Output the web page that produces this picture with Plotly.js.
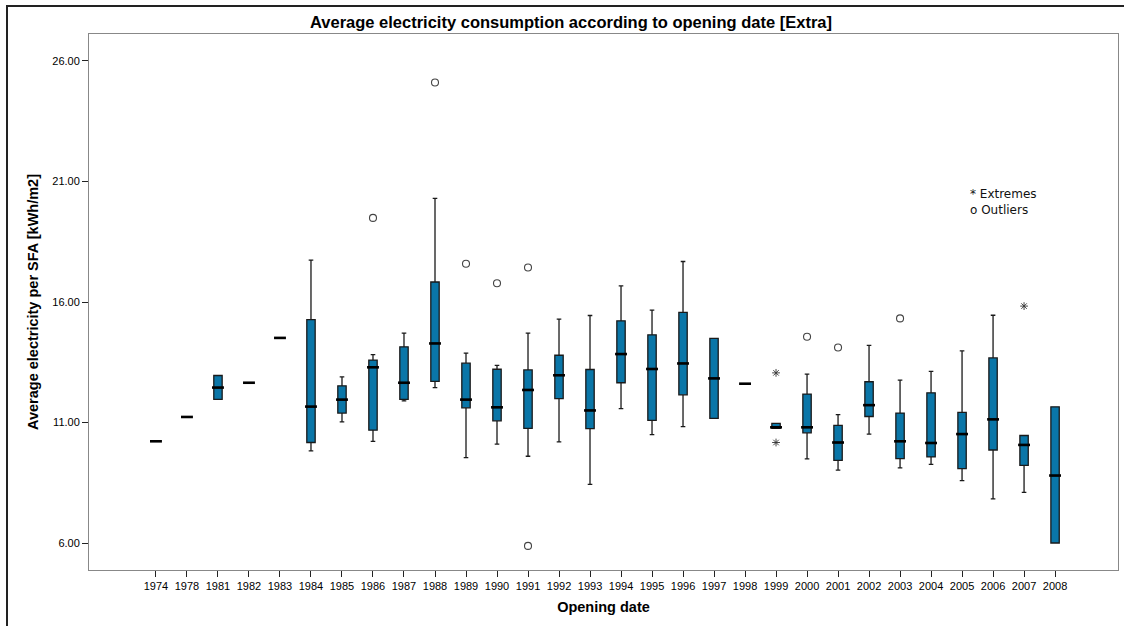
<!DOCTYPE html>
<html>
<head>
<meta charset="utf-8">
<script src="https://cdn.plot.ly/plotly-3.0.1.min.js"></script>
<style>
  html, body { margin: 0; padding: 0; background: #fff; }
  #frame { position: absolute; left: 6px; top: 5px; width: 1130px; height: 640px;
           border-left: 2px solid #222; border-top: 2px solid #222; pointer-events: none; }
  #chart { position: absolute; left: 0; top: 0; width: 1124px; height: 626px; }
</style>
</head>
<body>
<div id="chart"></div>
<div id="frame"></div>
<script>
// Opening-date categories
const years = ['1974','1978','1981','1982','1983','1984','1985','1986','1987','1988',
               '1989','1990','1991','1992','1993','1994','1995','1996','1997','1998',
               '1999','2000','2001','2002','2003','2004','2005','2006','2007','2008'];
// Box statistics (kWh/m2)
const lowerWhisker = [10.22,11.23,11.96,12.65,14.51, 9.82,11.03,10.22,11.90,12.45,
                       9.54,10.10, 9.60,10.20, 8.43,11.58,10.50,10.83,11.17,12.61,
                      10.76, 9.49, 9.02,10.52, 9.12, 9.26, 8.59, 7.83, 8.10, 6.00];
const q1Values     = [10.22,11.23,11.96,12.65,14.51,10.17,11.39,10.68,11.96,12.71,
                      11.61,11.07,10.76,11.99,10.75,12.65,11.09,12.15,11.17,12.61,
                      10.76,10.57, 9.43,11.25, 9.50, 9.57, 9.09, 9.86, 9.22, 6.00];
const medianValues = [10.22,11.23,12.45,12.65,14.51,11.66,11.95,13.29,12.65,14.28,
                      11.95,11.63,12.35,12.96,11.50,13.84,13.22,13.45,12.83,12.61,
                      10.80,10.80,10.17,11.72,10.22,10.15,10.52,11.13,10.07, 8.80];
const q3Values     = [10.22,11.23,12.95,12.65,14.51,15.27,12.52,13.59,14.14,16.83,
                      13.46,13.21,13.18,13.79,13.20,15.22,14.64,15.57,14.49,12.61,
                      10.96,12.18,10.88,12.69,11.39,12.23,11.42,13.68,10.46,11.65];
const upperWhisker = [10.22,11.23,12.95,12.65,14.51,17.74,12.89,13.82,14.71,20.30,
                      13.88,13.37,14.71,15.29,15.44,16.67,15.66,17.68,14.49,12.61,
                      10.96,13.01,11.33,14.20,12.76,13.12,13.97,15.45,10.46,11.65];
// Outliers (o) and extremes (*)
const outlierYears  = ['1986','1988','1989','1990','1991','1991','2000','2001','2003'];
const outlierValues = [19.49, 25.11, 17.59, 16.78, 17.43,  5.88, 14.56, 14.11, 15.32];
const extremeYears  = ['1999','1999','2007'];
const extremeValues = [13.06, 10.17, 15.83];
const yTicks = [6, 11, 16, 21, 26];

const boxTrace = {
  type: 'box',
  x: years,
  q1: q1Values, median: medianValues, q3: q3Values,
  lowerfence: lowerWhisker, upperfence: upperWhisker,
  boxpoints: false,
  width: 0.27,
  whiskerwidth: 0.55,
  fillcolor: '#0a76a8',
  line: { color: '#1a1a1a', width: 1.3 },
  hoverinfo: 'skip',
  showlegend: false
};
const medianTrace = {
  type: 'scatter', mode: 'markers',
  x: years, y: medianValues,
  marker: { symbol: 'line-ew', size: 8.5, line: { color: '#000', width: 2.6 } },
  hoverinfo: 'skip', showlegend: false
};
const outlierTrace = {
  type: 'scatter', mode: 'markers',
  x: outlierYears, y: outlierValues,
  marker: { symbol: 'circle-open', size: 7, color: '#444', line: { width: 1.1, color: '#444' } },
  hoverinfo: 'skip', showlegend: false
};
const extremeTrace = {
  type: 'scatter', mode: 'markers',
  x: extremeYears, y: extremeValues,
  marker: { symbol: 'asterisk-open', size: 6.5, color: '#333', line: { width: 0.9, color: '#333' } },
  hoverinfo: 'skip', showlegend: false
};

const layout = {
  width: 1124, height: 626,
  margin: { l: 89, r: 6, t: 34, b: 56 },
  paper_bgcolor: 'rgba(0,0,0,0)',
  plot_bgcolor: '#fff',
  font: { family: 'Liberation Sans, Arial, sans-serif', color: '#000' },
  title: {
    text: '<b>Average electricity consumption according to opening date [Extra]</b>',
    font: { size: 16.5, family: 'Liberation Sans, Arial, sans-serif', color: '#000' },
    xref: 'container', x: 0.508, xanchor: 'center',
    yref: 'container', y: 1 - 22 / 626, yanchor: 'middle'
  },
  xaxis: {
    type: 'category',
    categoryorder: 'array', categoryarray: years,
    range: [-2.16, 31.03],
    showgrid: false, zeroline: false,
    showline: true, mirror: true, linecolor: '#888', linewidth: 1,
    ticks: 'outside', ticklen: 6, tickcolor: '#222', tickwidth: 1,
    tickfont: { family: 'Liberation Sans Narrow, Liberation Sans, Arial, sans-serif', size: 11 },
    title: { text: '<b>Opening date</b>', font: { size: 14.5, family: 'Liberation Sans, Arial, sans-serif' }, standoff: 10 }
  },
  yaxis: {
    range: [4.88, 27.12],
    tickvals: yTicks,
    tickformat: '.2f',
    showgrid: false, zeroline: false,
    showline: true, mirror: true, linecolor: '#888', linewidth: 1,
    ticks: 'outside', ticklen: 6, tickcolor: '#222', tickwidth: 1,
    tickfont: { size: 11, family: 'Liberation Sans, Arial, sans-serif' },
    title: { text: '<b>Average electricity per SFA [kWh/m2]</b>', font: { size: 14.5, family: 'Liberation Sans, Arial, sans-serif' }, standoff: 10 }
  },
  annotations: [
    { xref: 'paper', yref: 'paper', x: (968 - 89) / 1029, y: (570 - 194) / 536,
      xanchor: 'left', yanchor: 'middle', showarrow: false, align: 'left',
      text: '* Extremes', font: { family: 'DejaVu Sans, Verdana, sans-serif', size: 12, color: '#111' } },
    { xref: 'paper', yref: 'paper', x: (968 - 89) / 1029, y: (570 - 210) / 536,
      xanchor: 'left', yanchor: 'middle', showarrow: false, align: 'left',
      text: 'o Outliers', font: { family: 'DejaVu Sans, Verdana, sans-serif', size: 12, color: '#111' } }
  ]
};

Plotly.newPlot('chart', [boxTrace, medianTrace, outlierTrace, extremeTrace], layout,
               { displayModeBar: false, staticPlot: true });
</script>
</body>
</html>
